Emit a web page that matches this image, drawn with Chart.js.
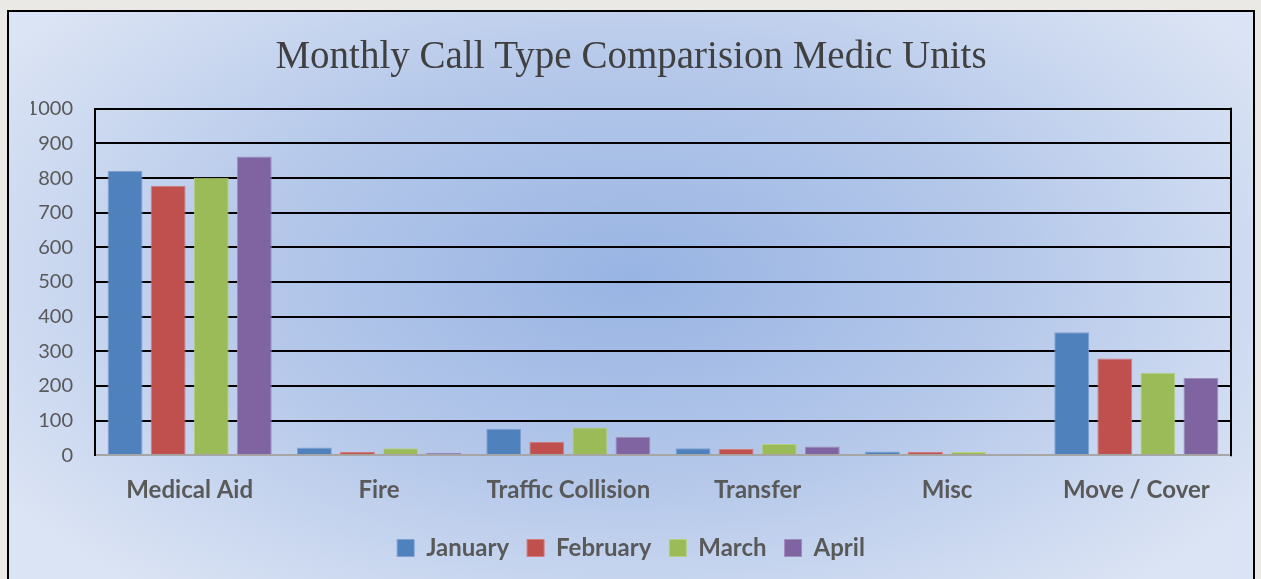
<!DOCTYPE html>
<html>
<head>
<meta charset="utf-8">
<script src="https://cdn.jsdelivr.net/npm/chart.js@4"></script>
<style>
  html, body { margin: 0; padding: 0; }
  body { width: 1261px; height: 579px; overflow: hidden; background: #ebe9e6; position: relative; }
  #box {
    position: absolute; left: 7px; top: 10px; width: 1244px; height: 590px;
    border: 2px solid #000;
    background: radial-gradient(ellipse 60% 70% at 50% 45%, #98b4e3 0%, #b5c8ea 50%, #dbe4f4 100%);
  }
  #wrap { position: absolute; left: 0; top: 0; width: 1244px; height: 567px; }
</style>
</head>
<body>
<div id="box"><div id="wrap"><canvas id="callChart"></canvas></div></div>
<script>
// ==================== DATA ====================
const categories = ['Medical Aid', 'Fire', 'Traffic Collision', 'Transfer', 'Misc', 'Move / Cover'];
const january  = [821, 22, 76, 20, 11, 355];
const february = [778, 10, 39, 18, 10, 279];
const march    = [801, 20, 80, 32, 9, 238];
const april    = [862, 7, 53, 25, 3, 223];
const yTicks   = [0, 100, 200, 300, 400, 500, 600, 700, 800, 900, 1000];

const seriesColors = ['#4f81bd', '#c0504d', '#9bbb59', '#8064a2'];
const edgeColors = ['#7da1d1', '#d57b79', '#b7d07f', '#a08bbd'];

// draws the right border of the plot area
const rightBorder = {
  id: 'rightBorder',
  afterDraw(chart) {
    const { ctx, chartArea } = chart;
    ctx.save();
    ctx.strokeStyle = '#000';
    ctx.lineWidth = 2;
    ctx.beginPath();
    ctx.moveTo(chartArea.right, chartArea.top - 1);
    ctx.lineTo(chartArea.right, chartArea.bottom + 1);
    ctx.stroke();
    ctx.restore();
  }
};

function makeDataset(label, data, i) {
  return {
    label,
    data,
    backgroundColor: seriesColors[i],
    borderColor: edgeColors[i],
    borderWidth: 1,
    categoryPercentage: 0.91,
    barPercentage: 0.81
  };
}

const ctx = document.getElementById('callChart');
new Chart(ctx, {
  type: 'bar',
  data: {
    labels: categories,
    datasets: [
      makeDataset('January', january, 0),
      makeDataset('February', february, 1),
      makeDataset('March', march, 2),
      makeDataset('April', april, 3)
    ]
  },
  options: {
    responsive: true,
    maintainAspectRatio: false,
    animation: false,
    layout: { padding: { top: 4, right: 22, left: 22, bottom: 9 } },
    plugins: {
      title: {
        display: true,
        text: 'Monthly Call Type Comparision Medic Units',
        color: '#404040',
        font: { family: '"Liberation Serif", serif', size: 39, weight: 'normal' },
        padding: { top: 18, bottom: 28 }
      },
      legend: {
        position: 'bottom',
        labels: {
          color: '#595959',
          font: { family: 'Lato', size: 24, weight: 'bold' },
          boxWidth: 17,
          boxHeight: 17,
          padding: 18
        }
      },
      tooltip: { enabled: false }
    },
    scales: {
      x: {
        grid: { display: false },
        border: { display: true, color: '#a6a6a6', width: 2 },
        ticks: {
          color: '#595959',
          font: { family: 'Lato', size: 24, weight: 'bold' },
          padding: 13
        }
      },
      y: {
        min: 0,
        max: 1000,
        afterBuildTicks(axis) { axis.ticks = yTicks.map(v => ({ value: v })); },
        afterFit(axis) { axis.width = 64; },
        grid: {
          color: c => (c.tick && c.tick.value === 0 ? '#a6a6a6' : '#000'),
          lineWidth: 2,
          drawTicks: false
        },
        border: { display: true, color: '#000', width: 2 },
        ticks: {
          color: '#595959',
          font: { family: 'Lato', size: 20 },
          padding: 22,
          callback: v => String(v)
        }
      }
    }
  },
  plugins: [rightBorder]
});
</script>
</body>
</html>
